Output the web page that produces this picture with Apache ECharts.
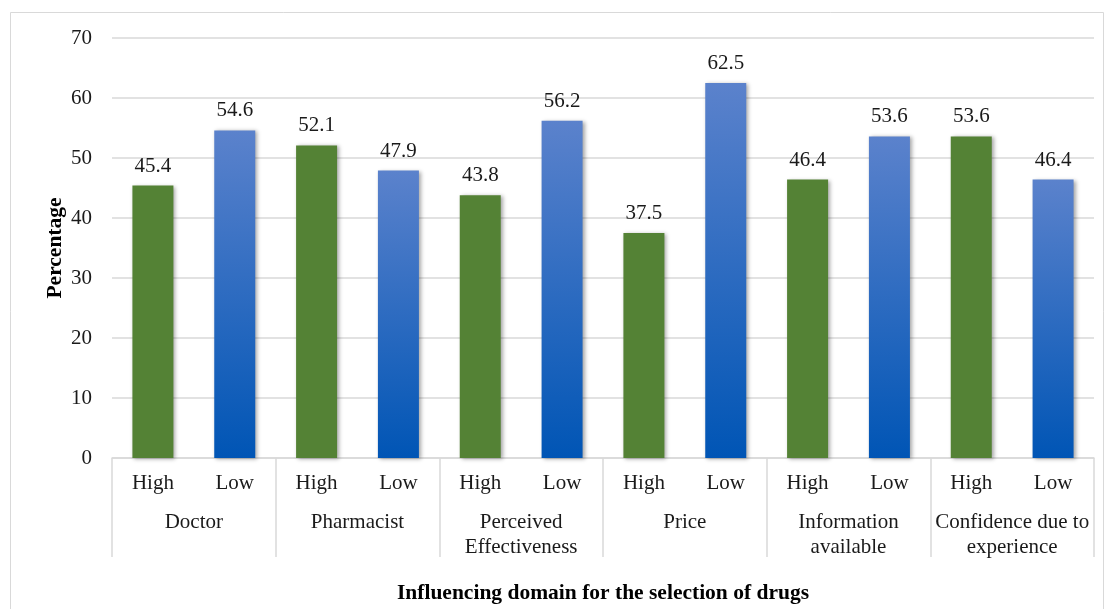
<!DOCTYPE html>
<html>
<head>
<meta charset="utf-8">
<script src="https://cdn.jsdelivr.net/npm/echarts@6/dist/echarts.min.js"></script>
<style>
  html, body { margin: 0; padding: 0; background: #fff; }
  #chart { width: 1105px; height: 609px; }
</style>
</head>
<body>
<div id="chart"></div>
<script>
// Influencing domains and the level labels shown under each bar
const domains = ['Doctor', 'Pharmacist', 'Perceived\nEffectiveness', 'Price', 'Information\navailable', 'Confidence due to\nexperience'];
const levels = ['High', 'Low'];
// Percentages for each domain
const highValues = [45.4, 52.1, 43.8, 37.5, 46.4, 53.6];
const lowValues = [54.6, 47.9, 56.2, 62.5, 53.6, 46.4];
// Y axis range
const yMin = 0, yMax = 70, yStep = 10;

const FONT = "'Liberation Serif', 'Times New Roman', serif";
const GRID = '#d9d9d9';
const TEXT = '#1a1a1a';

// one category per bar: High/Low inside every domain
const barCats = [];
const highSeries = [];
const lowSeries = [];
domains.forEach((d, i) => {
  barCats.push(levels[0], levels[1]);
  highSeries.push(highValues[i], null);
  lowSeries.push(null, lowValues[i]);
});

const shadow = {
  shadowBlur: 4,
  shadowColor: 'rgba(0,0,0,0.35)',
  shadowOffsetX: 2,
  shadowOffsetY: 1
};

const labelStyle = {
  show: true,
  position: 'top',
  distance: 9,
  fontFamily: FONT,
  fontSize: 21,
  color: TEXT,
  formatter: p => p.value == null ? '' : p.value.toFixed(1)
};

const chart = echarts.init(document.getElementById('chart'), null, { renderer: 'canvas' });
chart.setOption({
  animation: false,
  backgroundColor: '#fff',
  graphic: [{
    type: 'rect',
    shape: { x: 10.5, y: 12.5, width: 1093, height: 600 },
    style: { fill: 'none', stroke: GRID, lineWidth: 1 },
    silent: true,
    z: -10
  }],
  grid: { left: 112, right: 11, top: 38, bottom: 151, containLabel: false },
  xAxis: [{
    type: 'category',
    data: barCats,
    axisLine: { show: true, lineStyle: { color: GRID, width: 1.5 } },
    axisTick: { show: false },
    axisLabel: { fontFamily: FONT, fontSize: 21, color: TEXT, margin: 15, interval: 0 },
    name: 'Influencing domain for the selection of drugs',
    nameLocation: 'middle',
    nameMoveOverlap: false,
    nameGap: 124,
    nameTextStyle: { fontFamily: FONT, fontSize: 21.5, fontWeight: 'bold', color: '#000' }
  }, {
    type: 'category',
    data: domains,
    position: 'bottom',
    axisLine: { show: false },
    axisTick: { show: true, length: 99, lineStyle: { color: GRID, width: 1.5 } },
    axisLabel: { fontFamily: FONT, fontSize: 21, color: TEXT, margin: 52, interval: 0, lineHeight: 25 }
  }],
  yAxis: {
    type: 'value',
    min: yMin, max: yMax, interval: yStep,
    axisLine: { show: false },
    axisTick: { show: false },
    splitLine: { lineStyle: { color: GRID, width: 1.5 } },
    axisLabel: { fontFamily: FONT, fontSize: 21, color: TEXT, margin: 20 },
    name: 'Percentage',
    nameLocation: 'middle',
    nameMoveOverlap: false,
    nameGap: 46,
    nameTextStyle: { fontFamily: FONT, fontSize: 21.5, fontWeight: 'bold', color: '#000' }
  },
  series: [{
    name: 'High',
    type: 'bar',
    xAxisIndex: 0,
    data: highSeries,
    barWidth: 41,
    barGap: '-100%',
    itemStyle: Object.assign({ color: '#548235' }, shadow),
    label: labelStyle
  }, {
    name: 'Low',
    type: 'bar',
    xAxisIndex: 0,
    data: lowSeries,
    barWidth: 41,
    barGap: '-100%',
    itemStyle: Object.assign({
      color: new echarts.graphic.LinearGradient(0, 0, 0, 1, [
        { offset: 0, color: '#5b82cc' },
        { offset: 1, color: '#0055b5' }
      ])
    }, shadow),
    label: labelStyle
  }]
});
</script>
</body>
</html>
